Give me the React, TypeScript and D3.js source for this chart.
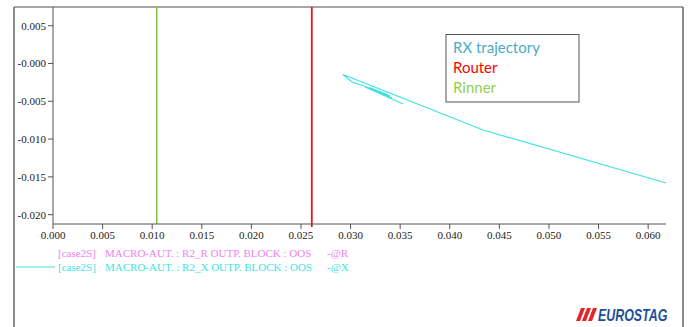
import React from 'react';
import * as d3 from 'd3';

// trajectory R (x) vs X (y)
const trajR = [0.03529, 0.03146, 0.03418, 0.03176, 0.03398, 0.03217, 0.03378, 0.03196, 0.03358, 0.03075, 0.03015, 0.02924, 0.04336, 0.06181];
const trajX = [-0.00536, -0.00311, -0.00456, -0.00331, -0.00430, -0.00344, -0.00418, -0.00322, -0.00403, -0.00271, -0.00245, -0.00146, -0.00880, -0.01581];

const rInner = 0.01046;
const rOuter = 0.02609;

const xTicks = [0, 0.005, 0.01, 0.015, 0.02, 0.025, 0.03, 0.035, 0.04, 0.045, 0.05, 0.055, 0.06];
const xTickLabels = ['0.000', '0.005', '0.010', '0.015', '0.020', '0.025', '0.030', '0.035', '0.040', '0.045', '0.050', '0.055', '0.060'];
const yTicks = [0.005, 0, -0.005, -0.01, -0.015, -0.02];
const yTickLabels = ['0.005', '-0.000', '-0.005', '-0.010', '-0.015', '-0.020'];

const boxLabels = ['RX trajectory', 'Router', 'Rinner'];
const boxColors = ['#4bacc6', '#ff0000', '#92d050'];

const seriesNames = ['[case2S]', '[case2S]'];
const seriesDesc = ['MACRO-AUT. : R2_R OUTP. BLOCK : OOS', 'MACRO-AUT. : R2_X OUTP. BLOCK : OOS'];
const seriesTag = ['-@R', '-@X'];
const seriesColors = ['#ee82ee', '#3fe3e3'];

const W = 688;
const H = 327;
const left = 53, right = 666, top = 7, bottom = 224;

export default function App() {
  const x = d3.scaleLinear().domain([0, 0.0618]).range([left, right]);
  const y = d3.scaleLinear().domain([-0.02123, 0.00747]).range([bottom, top]);
  const pts: [number, number][] = trajR.map((r, i) => [r, trajX[i]]);
  const line = d3.line<[number, number]>().x(d => x(d[0])).y(d => y(d[1]));
  const serif = "'Liberation Serif', 'Times New Roman', serif";
  const axisCol = '#555';

  return (
    <svg width={W} height={H} style={{ position: 'absolute', left: 0, top: 0, background: '#fff' }}>
      {/* outer frame */}
      <line x1={14} y1={7} x2={683} y2={7} stroke="#888" strokeWidth={1.5} />
      <line x1={14} y1={7} x2={14} y2={H} stroke="#666" strokeWidth={1.5} />
      <line x1={683} y1={7} x2={683} y2={H} stroke="#666" strokeWidth={1.5} />

      {/* vertical reference lines */}
      <line x1={x(rInner)} x2={x(rInner)} y1={top} y2={bottom} stroke="#7dc63a" strokeWidth={1.5} />
      <line x1={x(rOuter)} x2={x(rOuter)} y1={top} y2={bottom + 3} stroke="#e8141c" strokeWidth={1.8} />

      <path d={line(pts) || ''} fill="none" stroke={seriesColors[1]} strokeWidth={1.2} />

      {/* axes */}
      <g fontFamily={serif} fontSize={11} fill="#222">
        <line x1={left} x2={left} y1={top} y2={bottom} stroke={axisCol} />
        <line x1={left} x2={right} y1={bottom} y2={bottom} stroke={axisCol} />
        {yTicks.map((t, i) => (
          <g key={'y' + i}>
            <line x1={left - 5} x2={left} y1={y(t)} y2={y(t)} stroke={axisCol} />
            <text x={left - 7} y={y(t) + 4} textAnchor="end">{yTickLabels[i]}</text>
          </g>
        ))}
        {xTicks.map((t, i) => (
          <g key={'x' + i}>
            <line x1={x(t)} x2={x(t)} y1={bottom} y2={bottom + 5} stroke={axisCol} />
            <text x={x(t)} y={bottom + 15} textAnchor="middle">{xTickLabels[i]}</text>
          </g>
        ))}
      </g>

      {/* text box legend */}
      <rect x={446} y={34.5} width={133} height={67.5} fill="#fff" stroke="#555" strokeWidth={1} />
      {boxLabels.map((l, i) => (
        <text key={l} x={453} y={53 + i * 20} fontFamily="Lato, sans-serif" fontSize={15} fill={boxColors[i]}>{l}</text>
      ))}

      {/* series legend */}
      {seriesNames.map((n, i) => (
        <g key={'s' + i} fontFamily={serif} fontSize={11} fill={seriesColors[i]}>
          {i === 1 && <line x1={16} x2={55} y1={253 + i * 14} y2={253 + i * 14} stroke={seriesColors[i]} strokeWidth={1} />}
          <text x={58} y={257 + i * 14}>{n}</text>
          <text x={105} y={257 + i * 14}>{seriesDesc[i]}</text>
          <text x={327} y={257 + i * 14}>{seriesTag[i]}</text>
        </g>
      ))}

      {/* logo */}
      <g transform="translate(576,308)">
        {[0, 6, 12].map(o => (
          <polygon key={o} points={`${o + 5},0 ${o + 9},0 ${o + 4},13 ${o},13`} fill="#e3262b" />
        ))}
        <g transform="translate(22,13) scale(0.92,1.25)">
          <text x={0} y={0} fontFamily="'Liberation Sans', Arial, sans-serif" fontWeight="bold" fontStyle="italic" fontSize={13.5} fill="#1d4f9c">EUROSTAG</text>
        </g>
      </g>
    </svg>
  );
}
